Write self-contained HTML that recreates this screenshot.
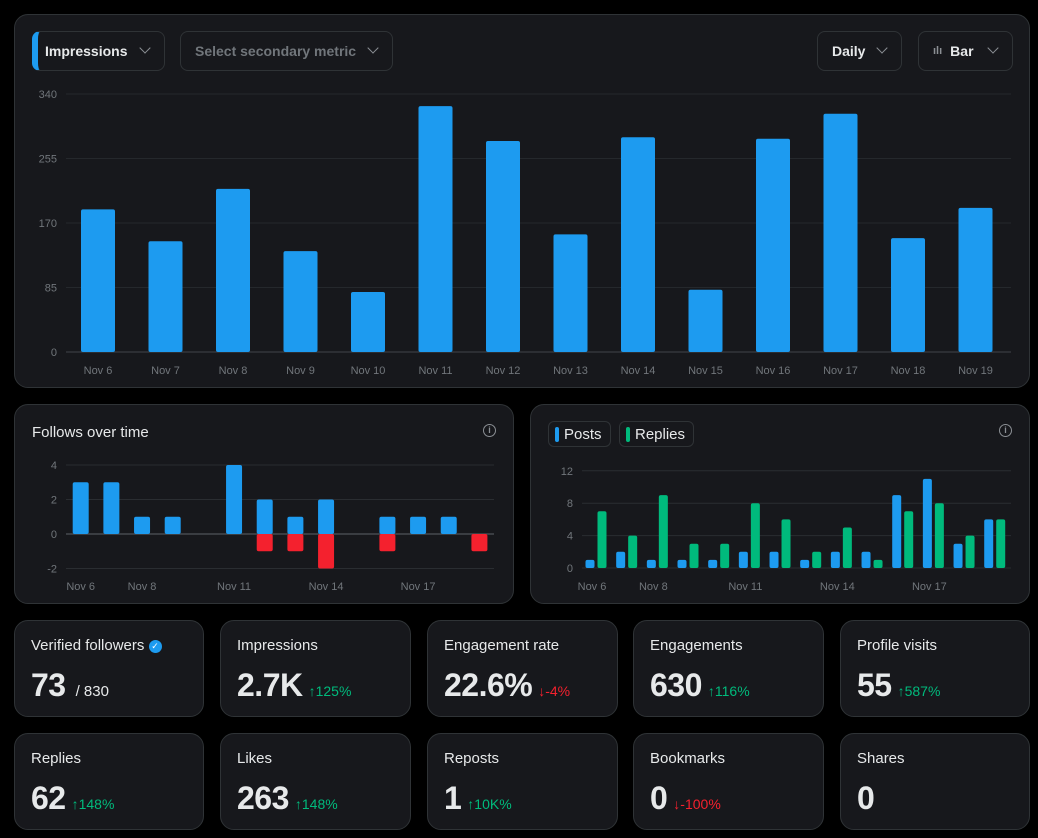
<!DOCTYPE html>
<html><head><meta charset="utf-8"><style>
*{box-sizing:border-box;margin:0;padding:0}
body{width:1038px;height:838px;background:#000;font-family:"Liberation Sans",sans-serif;color:#e7e9ea;position:relative;overflow:hidden}
.card{position:absolute;background:#17181c;border:1px solid #2f3336;border-radius:14px}
.btn{position:absolute;border:1px solid #2f3336;border-radius:8px;height:40px;font-size:14px;font-weight:bold;display:flex;align-items:center;padding-left:14px;color:#e7e9ea}
.chev{position:absolute;right:15px;top:12px;width:8px;height:8px;border-right:1.5px solid #8b8f94;border-bottom:1.5px solid #8b8f94;transform:rotate(45deg)}
.stat .t{position:absolute;left:16px;top:16px;font-size:15px;color:#e7e9ea}
.stat .v{position:absolute;left:16px;top:46px;font-size:32px;font-weight:bold;color:#e7e9ea;letter-spacing:-0.5px}
.stat .d{font-size:14px;font-weight:normal;margin-left:6px;letter-spacing:0}
.up{color:#00ba7c}.dn{color:#f4212e}
svg text{font-family:"Liberation Sans",sans-serif}
.info{position:absolute;width:13px;height:13px;border:1.3px solid #8b8f94;border-radius:50%;font-size:9px;color:#8b8f94;text-align:center;line-height:11px;font-weight:bold}
.leg{position:absolute;top:16px;height:26px;border:1px solid #2f3336;border-radius:6px;font-size:15px;display:flex;align-items:center;padding:0 8px 0 6px;gap:5px}
.leg i{display:inline-block;width:4px;height:15px;border-radius:2px}
</style></head><body>
<div class="card" style="left:14px;top:14px;width:1016px;height:374px">
 <div class="btn" style="left:17px;top:16px;width:133px;border-left:6px solid #1d9bf0;padding-left:7px">Impressions<span class="chev"></span></div>
 <div class="btn" style="left:165px;top:16px;width:213px;color:#71767b">Select secondary metric<span class="chev"></span></div>
 <div class="btn" style="left:802px;top:16px;width:85px">Daily<span class="chev"></span></div>
 <div class="btn" style="left:903px;top:16px;width:95px"><span style="color:#8b8f94;font-size:11px;margin-right:8px">ılı</span>Bar<span class="chev"></span></div>
</div>
<div class="card" style="left:14px;top:404px;width:500px;height:200px">
 <div style="position:absolute;left:17px;top:19px;font-size:15px">Follows over time</div>
 <div class="info" style="left:468px;top:19px">i</div>
</div>
<div class="card" style="left:530px;top:404px;width:500px;height:200px">
 <div class="leg" style="left:17px"><i style="background:#1d9bf0"></i>Posts</div>
 <div class="leg" style="left:88px"><i style="background:#00ba7c"></i>Replies</div>
 <div class="info" style="left:468px;top:19px">i</div>
</div>
<svg id="svg" width="1038" height="838" style="position:absolute;left:0;top:0"></svg>
<script>
const days=["Nov 6","Nov 7","Nov 8","Nov 9","Nov 10","Nov 11","Nov 12","Nov 13","Nov 14","Nov 15","Nov 16","Nov 17","Nov 18","Nov 19"];
const impressions=[188,146,215,133,79,324,278,155,283,82,281,314,150,190];
const impTicks=[0,85,170,255,340];
const followsGained=[3,3,1,1,0,4,2,1,2,0,1,1,1,0];
const followsLost=[0,0,0,0,0,0,-1,-1,-2,0,-1,0,0,-1];
const followTicks=[-2,0,2,4];
const posts=[1,2,1,1,1,2,2,1,2,2,9,11,3,6];
const replies=[7,4,9,3,3,8,6,2,5,1,7,8,4,6];
const prTicks=[0,4,8,12];
const smallLabels=[0,2,5,8,11];
const NS="http://www.w3.org/2000/svg",svg=document.getElementById('svg');
function mk(t,a,txt){const e=document.createElementNS(NS,t);for(const k in a)e.setAttribute(k,a[k]);if(txt!==undefined)e.textContent=txt;svg.appendChild(e);return e;}
function bar(x,y0,y1,w,fill,nm){const y=Math.min(y0,y1),h=Math.abs(y1-y0);if(h<=0)return;const e=mk('rect',{x:x-w/2,y:y,width:w,height:h,rx:2,fill:fill});}
const mY=v=>352-v/340*258, mX=i=>98+i*67.5;
impTicks.forEach(t=>{const g=mk('line',{x1:66,x2:1011,y1:mY(t),y2:mY(t),stroke:t==0?'#33363b':'#25282c','stroke-width':t==0?1.5:1});
const l=mk('text',{x:57,y:mY(t)+4,'text-anchor':'end','font-size':11,fill:'#71767b'},t);});
impressions.forEach((v,i)=>{bar(mX(i),mY(0),mY(v),34,'#1d9bf0','impressions-bar');
const l=mk('text',{x:mX(i),y:374,'text-anchor':'middle','font-size':11,fill:'#71767b'},days[i]);});
const fY=v=>534-v*17.25, fX=i=>80.7+i*30.67;
followTicks.forEach(t=>{const g=mk('line',{x1:66,x2:494,y1:fY(t),y2:fY(t),stroke:t==0?'#3a3d42':'#2a2d31','stroke-width':t==0?2:1});
const l=mk('text',{x:57,y:fY(t)+4,'text-anchor':'end','font-size':11,fill:'#71767b'},t);});
followsGained.forEach((v,i)=>bar(fX(i),fY(0),fY(v),16,'#1d9bf0','follows-gained-bar'));
followsLost.forEach((v,i)=>bar(fX(i),fY(0),fY(v),16,'#f4212e','follows-lost-bar'));
smallLabels.forEach(i=>{const l=mk('text',{x:fX(i),y:590,'text-anchor':'middle','font-size':11,fill:'#71767b'},days[i]);});
const pY=v=>568-v*8.1, pX=i=>596+i*30.67;
prTicks.forEach(t=>{const g=mk('line',{x1:582,x2:1011,y1:pY(t),y2:pY(t),stroke:'#2a2d31','stroke-width':1});
const l=mk('text',{x:573,y:pY(t)+4,'text-anchor':'end','font-size':11,fill:'#71767b'},t);});
posts.forEach((v,i)=>bar(pX(i)-6,pY(0),pY(v),9,'#1d9bf0','posts-bar'));
replies.forEach((v,i)=>bar(pX(i)+6,pY(0),pY(v),9,'#00ba7c','replies-bar'));
smallLabels.forEach(i=>{const l=mk('text',{x:pX(i)-4,y:590,'text-anchor':'middle','font-size':11,fill:'#71767b'},days[i]);});
</script>
<div class="card stat" style="left:14px;top:620px;width:190px;height:97px"><div class="t">Verified followers <span style="display:inline-block;width:13px;height:13px;border-radius:50%;background:#1d9bf0;color:#fff;font-size:9px;text-align:center;line-height:13px;vertical-align:1px">✓</span></div><div class="v">73<span class="d" style="color:#e7e9ea;font-size:15px;margin-left:10px">/ 830</span></div></div>
<div class="card stat" style="left:220px;top:620px;width:191px;height:97px"><div class="t">Impressions</div><div class="v">2.7K<span class="d up">↑125%</span></div></div>
<div class="card stat" style="left:427px;top:620px;width:191px;height:97px"><div class="t">Engagement rate</div><div class="v">22.6%<span class="d dn">↓-4%</span></div></div>
<div class="card stat" style="left:633px;top:620px;width:191px;height:97px"><div class="t">Engagements</div><div class="v">630<span class="d up">↑116%</span></div></div>
<div class="card stat" style="left:840px;top:620px;width:190px;height:97px"><div class="t">Profile visits</div><div class="v">55<span class="d up">↑587%</span></div></div>
<div class="card stat" style="left:14px;top:733px;width:190px;height:97px"><div class="t">Replies</div><div class="v">62<span class="d up">↑148%</span></div></div>
<div class="card stat" style="left:220px;top:733px;width:191px;height:97px"><div class="t">Likes</div><div class="v">263<span class="d up">↑148%</span></div></div>
<div class="card stat" style="left:427px;top:733px;width:191px;height:97px"><div class="t">Reposts</div><div class="v">1<span class="d up">↑10K%</span></div></div>
<div class="card stat" style="left:633px;top:733px;width:191px;height:97px"><div class="t">Bookmarks</div><div class="v">0<span class="d dn">↓-100%</span></div></div>
<div class="card stat" style="left:840px;top:733px;width:190px;height:97px"><div class="t">Shares</div><div class="v">0</div></div>
</body></html>
